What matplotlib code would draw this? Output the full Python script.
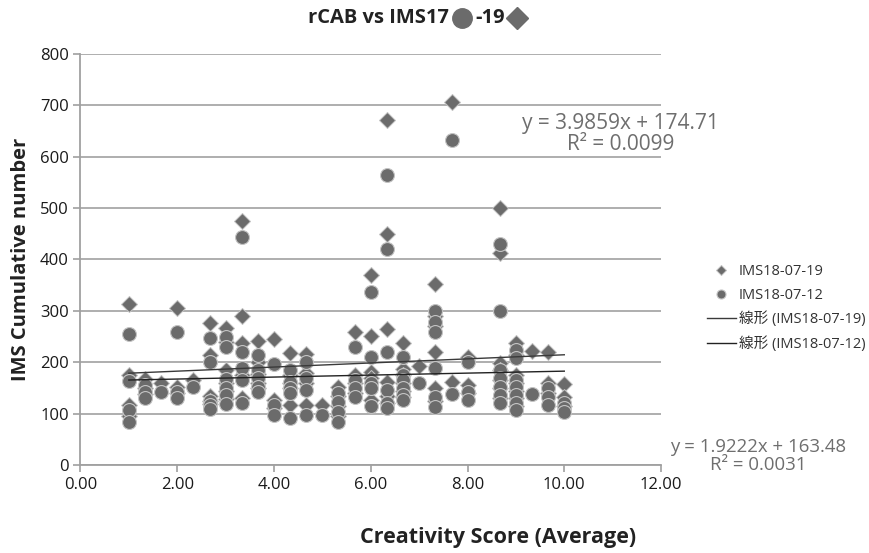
import numpy as np
import matplotlib.pyplot as plt
from matplotlib.lines import Line2D

# creativity score of each student (average of three raters)
score = [1.00, 1.00, 1.00, 1.00,
         1.33, 1.33, 1.33,
         1.67,
         2.00, 2.00, 2.00,
         2.33,
         2.67, 2.67, 2.67, 2.67, 2.67,
         3.00, 3.00, 3.00, 3.00, 3.00, 3.00,
         3.33, 3.33, 3.33, 3.33, 3.33,
         3.67, 3.67, 3.67, 3.67, 3.67,
         4.00, 4.00, 4.00,
         4.33, 4.33, 4.33, 4.33, 4.33,
         4.67, 4.67, 4.67, 4.67,
         5.00,
         5.33, 5.33, 5.33, 5.33,
         5.67, 5.67, 5.67, 5.67,
         6.00, 6.00, 6.00, 6.00, 6.00,
         6.33, 6.33, 6.33, 6.33, 6.33, 6.33,
         6.67, 6.67, 6.67, 6.67, 6.67, 6.67,
         7.00,
         7.33, 7.33, 7.33, 7.33, 7.33, 7.33,
         7.67, 7.67,
         8.00, 8.00, 8.00,
         8.67, 8.67, 8.67, 8.67, 8.67, 8.67, 8.67,
         9.00, 9.00, 9.00, 9.00, 9.00, 9.00, 9.00,
         9.33,
         9.67, 9.67, 9.67,
         10.00, 10.00, 10.00]

# cumulative IMS count on 2018-07-12
ims_0712 = [255, 164, 107, 84,
            156, 143, 130,
            143,
            259, 143, 130,
            152,
            248, 201, 124, 117, 109,
            249, 229, 167, 150, 136, 119,
            444, 220, 188, 165, 120,
            214, 185, 169, 152, 143,
            196, 117, 97,
            185, 162, 150, 140, 91,
            201, 169, 146, 97,
            97,
            140, 123, 104, 84,
            230, 165, 150, 133,
            337, 211, 159, 150, 115,
            565, 420, 220, 146, 120, 111,
            211, 175, 165, 150, 136, 126,
            160,
            300, 279, 259, 188, 133, 113,
            632, 139,
            201, 143, 126,
            430, 300, 185, 169, 152, 136, 120,
            224, 208, 165, 152, 136, 120, 108,
            139,
            149, 133, 117,
            120, 110, 104]

# cumulative IMS count on 2018-07-19
ims_0719 = [313, 175, 117, 95,
            167, 150, 138,
            159,
            306, 152, 140,
            165,
            277, 214, 134, 125, 118,
            267, 240, 184, 160, 145, 128,
            475, 290, 237, 175, 130,
            242, 200, 178, 160, 150,
            245, 126, 110,
            218, 175, 160, 150, 117,
            216, 180, 160, 117,
            117,
            152, 135, 115, 95,
            259, 175, 160, 140,
            369, 251, 182, 170, 126,
            672, 450, 265, 162, 135, 120,
            237, 187, 175, 160, 145, 133,
            193,
            352, 290, 270, 220, 149, 125,
            706, 162,
            211, 156, 140,
            500, 412, 199, 185, 165, 150, 130,
            237, 215, 175, 160, 145, 130, 115,
            222,
            220, 160, 140,
            157, 133, 115]

# linear trend lines (slope, intercept, R^2)
fit_0719 = (3.9859, 174.71, 0.0099)
fit_0712 = (1.9222, 163.48, 0.0031)

xticks = [0, 2, 4, 6, 8, 10, 12]
yticks = [0, 100, 200, 300, 400, 500, 600, 700, 800]

marker_gray = '#6b6b6b'
edge_gray = '#c4c4c4'
text_gray = '#6e6e6e'
cjk = ['Open Sans', 'Noto Sans CJK JP', 'DejaVu Sans']

fig = plt.figure(figsize=(8.69, 5.53), dpi=100)
ax = fig.add_axes([0.0926, 0.1591, 0.6681, 0.7433])

ax.plot(score, ims_0719, linestyle='none', marker='D', ms=8,
        color=marker_gray, mec=edge_gray, mew=0.7, label='IMS18-07-19', zorder=3)
ax.plot(score, ims_0712, linestyle='none', marker='o', ms=10,
        color=marker_gray, mec=edge_gray, mew=0.8, label='IMS18-07-12', zorder=4)

xs = np.array([min(score), max(score)])
ax.plot(xs, fit_0719[0] * xs + fit_0719[1], color='#3a3a3a', lw=1.0,
        label='線形 (IMS18-07-19)', zorder=5)
ax.plot(xs, fit_0712[0] * xs + fit_0712[1], color='#222222', lw=1.0,
        label='線形 (IMS18-07-12)', zorder=5)

ax.set_xlim(0, 12)
ax.set_ylim(0, 800)
ax.set_xticks(xticks)
ax.set_xticklabels([f'{v:.2f}' for v in xticks])
ax.set_yticks(yticks)
ax.yaxis.grid(True, color='#a8a8a8', lw=1.3)
ax.set_axisbelow(True)
for side in ('top', 'right'):
    ax.spines[side].set_visible(False)
for side in ('left', 'bottom'):
    ax.spines[side].set_color('#a0a0a0')
    ax.spines[side].set_linewidth(1.3)
ax.tick_params(axis='both', colors='#a0a0a0', labelcolor='#1a1a1a',
               labelsize=12, length=5, width=1.2)
for lab in ax.get_xticklabels() + ax.get_yticklabels():
    lab.set_family('Open Sans')

ax.set_ylabel('IMS Cumulative number', fontsize=14.5, fontweight='bold',
              family='Open Sans', color='#222222', labelpad=6)
fig.text(0.573, 0.028, 'Creativity Score (Average)', ha='center', va='center',
         fontsize=15.5, fontweight='bold', family='Open Sans', color='#222222')

# trend line equations
fig.text(0.714, 0.758, f'y = {fit_0719[0]}x + {fit_0719[1]}\nR² = {fit_0719[2]}',
         ha='center', va='center', fontsize=15, color=text_gray,
         family='Open Sans', linespacing=1.0)
fig.text(0.872, 0.175, f'y = {fit_0712[0]}x + {fit_0712[1]}\nR² = {fit_0712[2]}',
         ha='center', va='center', fontsize=13.4, color=text_gray,
         family='Open Sans', linespacing=1.0)

leg = ax.legend(loc='center left', bbox_to_anchor=(0.798, 0.443),
                bbox_transform=fig.transFigure, frameon=False,
                prop={'family': cjk, 'size': 10.5}, markerscale=0.65,
                handlelength=2.0, handletextpad=0.2, labelspacing=0.6)
for t in leg.get_texts():
    t.set_color('#333333')

# title made of text pieces and marker glyphs
fig.canvas.draw()
renderer = fig.canvas.get_renderer()
inv = fig.transFigure.inverted()
ty = 0.968
t1 = fig.text(0.354, ty, 'rCAB vs IMS17', ha='left', va='center', fontsize=14.5,
              fontweight='bold', family='Open Sans', color='#222222')
bb = t1.get_window_extent(renderer)
x1 = inv.transform((bb.x1, 0))[0]
fig.add_artist(Line2D([x1 + 0.016], [ty], marker='o', ms=14, color=marker_gray,
                      transform=fig.transFigure))
t2 = fig.text(x1 + 0.031, ty, '-19', ha='left', va='center', fontsize=14.5,
              fontweight='bold', family='Open Sans', color='#222222')
bb = t2.get_window_extent(renderer)
x2 = inv.transform((bb.x1, 0))[0]
fig.add_artist(Line2D([x2 + 0.014], [ty], marker='D', ms=11, color=marker_gray,
                      transform=fig.transFigure))

plt.savefig('out.png', dpi=100)
